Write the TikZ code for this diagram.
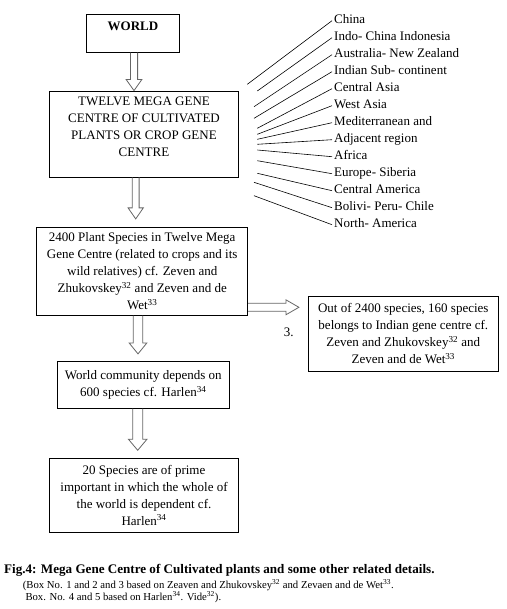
\documentclass[tikz,border=0pt]{standalone}
\usepackage{fontspec}
\setmainfont{Liberation Serif}
\usetikzlibrary{calc}
\newcommand{\blockdown}[5]{%
\draw[blockarrow] let \p1=($(#1.south)+(#3,0)$), \p2=($(#2.north)+(0,-#4)$) in
(\x1-#5pt,\y1) -- (\x1-#5pt,\y2+11pt) -- (\x1-#5pt-4.2pt,\y2+11pt) -- (\x1,\y2) -- (\x1+#5pt+4.2pt,\y2+11pt) -- (\x1+#5pt,\y2+11pt) -- (\x1+#5pt,\y1);}
\begin{document}
\begin{tikzpicture}[x=1pt, y=-1pt, font=\fontsize{13}{17}\selectfont,
box/.style={draw, line width=0.8pt, align=center, inner sep=0pt},
region/.style={anchor=west, inner sep=2pt, text height=9pt, text depth=3pt},
blockarrow/.style={draw=black!60, line width=0.8pt},
note/.style={anchor=base west, inner sep=0pt, font=\fontsize{10.7}{12}\selectfont}]
\useasboundingbox (0,0) rectangle (506,609);
\node[box, font=\fontsize{13}{17}\selectfont\bfseries, minimum width=92.6pt, minimum height=38pt, text height=9pt, text depth=15.2pt] (world) at (133,33.3){WORLD};
\node[box, minimum width=189.4pt, minimum height=86pt, text height=60pt, text depth=15pt] (twelve) at (144,134){TWELVE MEGA GENE\\CENTRE OF CULTIVATED\\PLANTS OR CROP GENE\\CENTRE};
\node[box, minimum width=211pt, minimum height=88pt] (species) at (142.2,271.3){2400 Plant Species in Twelve Mega\\Gene Centre (related to crops and its\\wild relatives) cf. Zeven and\\Zhukovskey\textsuperscript{32} and Zeven and de\\Wet\textsuperscript{33}};
\node[box, minimum width=190pt, minimum height=74.3pt] (indian) at (403.3,333.8){Out of 2400 species, 160 species\\belongs to Indian gene centre cf.\\Zeven and Zhukovskey\textsuperscript{32} and\\Zeven and de Wet\textsuperscript{33}};
\node[box, minimum width=172pt, minimum height=47pt] (community) at (143.3,384.8){World community depends on\\600 species cf. Harlen\textsuperscript{34}};
\node[box, minimum width=189.4pt, minimum height=74pt] (prime) at (144,495.3){20 Species are of prime\\important in which the whole of\\the world is dependent cf.\\Harlen\textsuperscript{34}};
\node[inner sep=0pt] (three) at (288.7,332.7){3.};
\foreach \nm/\txt/\lx/\ly [count=\i from 0] in {china/China/247.3/84.3, indochina/Indo- China Indonesia/257.3/91, australia/Australia- New Zealand/254/106.7, indian/Indian Sub- continent/254/118.3, centralasia/Central Asia/257.3/128.3, westasia/West Asia/257.3/134.3, mediterr/Mediterranean and/257.3/139.3, adjacent/Adjacent region/257.3/144.3, africa/Africa/257.3/150, europe/Europe- Siberia/257.3/160.7, centralam/Central America/257.3/173.3, bolivi/Bolivi- Peru- Chile/254/182.3, northam/North- America/254/195.7}{
\node[region] (r-\nm) at (332,20.7+17*\i){\txt};
\coordinate (r-\nm-end) at (\lx,\ly);
\draw[line width=0.6pt](r-\nm-end) -- (r-\nm.west);
}
\blockdown{world}{twelve}{1}{0}{3.6}
\blockdown{twelve}{species}{-8.3}{8}{3.4}
\blockdown{species}{community}{-4.2}{7}{4.7}
\blockdown{community}{prime}{-5.6}{7.6}{5}
\draw[blockarrow] let \p1=($(species.east)+(0,36)$), \p2=($(indian.west)+(-9,0)$) in
(\x1,\y1+4pt) -- (\x2-13pt,\y1+4pt) -- (\x2-13pt,\y1+7.5pt) -- (\x2,\y1) -- (\x2-13pt,\y1-7.5pt) -- (\x2-13pt,\y1-4pt) -- (\x1,\y1-4pt);
\node[anchor=base west, inner sep=0pt, font=\fontsize{13.1}{15}\selectfont\bfseries] (caption) at (4,573.5){Fig.4: Mega Gene Centre of Cultivated plants and some other related details.};
\node[note] (source1) at (22.7,588){(Box No. 1 and 2 and 3 based on Zeaven and Zhukovskey\textsuperscript{32} and Zevaen and de Wet\textsuperscript{33}.};
\node[note] (source2) at (25.3,600){Box. No. 4 and 5 based on Harlen\textsuperscript{34}. Vide\textsuperscript{32}).};
\end{tikzpicture}
\end{document}
